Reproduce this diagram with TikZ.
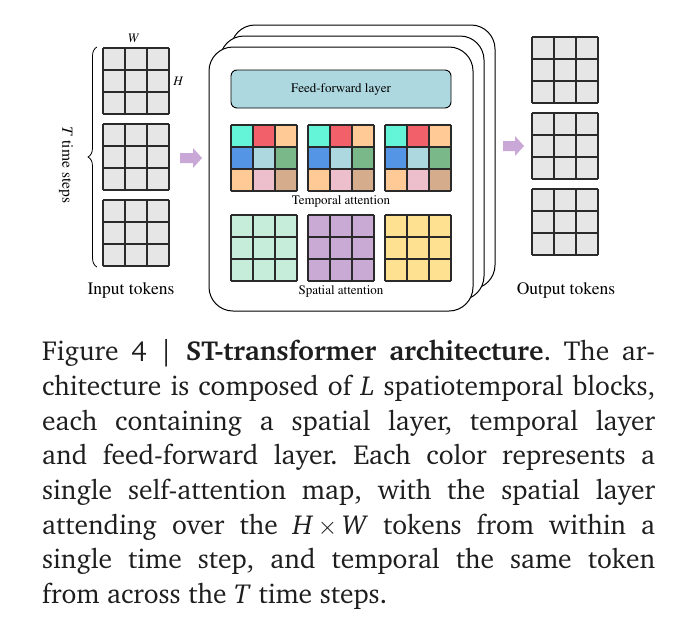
\documentclass[tikz,border=0pt]{standalone}
\usepackage[T1]{fontenc}
\usetikzlibrary{decorations.pathreplacing}
\definecolor{cellgray}{HTML}{E6E6E6}
\definecolor{gridline}{HTML}{2A2A2A}
\definecolor{ffblue}{HTML}{ADD8E0}
\definecolor{tturq}{HTML}{64F5D8}
\definecolor{tred}{HTML}{F2606A}
\definecolor{tpeach}{HTML}{FFCA96}
\definecolor{tblue}{HTML}{5595E5}
\definecolor{tlblue}{HTML}{ADD8E0}
\definecolor{tgreen}{HTML}{7AB88A}
\definecolor{tpink}{HTML}{EDBFCC}
\definecolor{ttan}{HTML}{D5AC8C}
\definecolor{smint}{HTML}{C5EDDA}
\definecolor{spurple}{HTML}{C8AAD5}
\definecolor{syellow}{HTML}{FFE192}
\definecolor{arrowc}{HTML}{C9A8D8}
\definecolor{captext}{HTML}{1E1E1E}
\newcommand\tokgrid[3]{%
  \foreach \cc [count=\ii from 0] in #3 {
    \pgfmathtruncatemacro\gcx{mod(\ii,3)}
    \pgfmathtruncatemacro\gcy{\ii/3}
    \fill[\cc] ({#1+22*\gcx},{#2+22*\gcy}) rectangle ++(22,22);
  }
  \foreach \kk in {0,...,3} {
    \draw[gridstroke] ({#1+22*\kk},#2) -- ++(0,66);
    \draw[gridstroke] (#1,{#2+22*\kk}) -- ++(66,0);
  }
}
\def\gr{cellgray,cellgray,cellgray,cellgray,cellgray,cellgray,cellgray,cellgray,cellgray}
\def\tc{tturq,tred,tpeach,tblue,tlblue,tgreen,tpeach,tpink,ttan}
\def\smc{smint,smint,smint,smint,smint,smint,smint,smint,smint}
\def\spc{spurple,spurple,spurple,spurple,spurple,spurple,spurple,spurple,spurple}
\def\syc{syellow,syellow,syellow,syellow,syellow,syellow,syellow,syellow,syellow}
\begin{document}
\frenchspacing
\begin{tikzpicture}[x=1pt,y=-1pt,
  gridstroke/.style={draw=gridline,line width=1.1pt},
  blockbox/.style={draw=black,fill=white,line width=1pt,rounded corners=24pt},
  lbl/.style={font=\fontfamily{ptm}\selectfont\fontsize{13}{15}\selectfont,inner sep=0pt,text=black},
  biglbl/.style={font=\fontfamily{ptm}\selectfont\fontsize{17.5}{20}\selectfont,inner sep=0pt,text=black},
  capnode/.style={anchor=base west,inner sep=0pt,text=captext,font=\fontfamily{bch}\selectfont\fontsize{27.5}{34.7}\selectfont}]
\useasboundingbox[fill=white] (0,0) rectangle (677,635);

% input tokens
\tokgrid{103}{48}{\gr}
\tokgrid{103}{124}{\gr}
\tokgrid{103}{200}{\gr}
\node[lbl,font=\fontfamily{ptm}\fontshape{it}\selectfont\fontsize{13}{15}\selectfont] (wlab) at (133,38) {W};
\node[lbl,font=\fontfamily{ptm}\fontshape{it}\selectfont\fontsize{13}{15}\selectfont] (hlab) at (178,81) {H};
\draw[line width=0.8pt,decorate,decoration={brace,amplitude=9pt}] (97,267) -- (97,47);
\node[lbl,rotate=-90,font=\fontfamily{ptm}\selectfont\fontsize{15.5}{18}\selectfont] (tlab) at (66,165) {\textit{T} time steps};
\node[biglbl] (inlab) at (131,290) {Input tokens};

% arrows
\fill[arrowc] (180,153) -- (193,153) -- (193,148) -- (202,158) -- (193,168) -- (193,163) -- (180,163) -- cycle;
\fill[arrowc] (503,141) -- (515,141) -- (515,136) -- (524,146) -- (515,156) -- (515,151) -- (503,151) -- cycle;

% stacked blocks
\draw[blockbox] (231,25) rectangle (495,289);
\draw[blockbox] (220,36) rectangle (484,300);
\draw[blockbox] (209,47) rectangle (473,311);

\draw[fill=ffblue,draw=black,line width=0.9pt,rounded corners=6pt] (231,70) rectangle (451,108);
\node[lbl] (fflab) at (341,89) {Feed-forward layer};

\tokgrid{231}{125}{\tc}
\tokgrid{308}{125}{\tc}
\tokgrid{385}{125}{\tc}
\node[lbl] (talab) at (341,201) {Temporal attention};

\tokgrid{231}{215}{\smc}
\tokgrid{308}{215}{\spc}
\tokgrid{385}{215}{\syc}
\node[lbl] (salab) at (341,291) {Spatial attention};

% output tokens
\tokgrid{532}{37}{\gr}
\tokgrid{532}{113}{\gr}
\tokgrid{532}{189}{\gr}
\node[biglbl] (outlab) at (566,290) {Output tokens};

% caption
\node[capnode] (c1) at (42,360) {\makebox[613pt][s]{Figure 4 | \textbf{ST-transformer architecture}. The ar-}};
\node[capnode] (c2) at (42,395) {\makebox[613pt][s]{chitecture is composed of \textit{L} spatiotemporal blocks,}};
\node[capnode] (c3) at (42,430) {\makebox[613pt][s]{each containing a spatial layer, temporal layer}};
\node[capnode] (c4) at (42,464) {\makebox[613pt][s]{and feed-forward layer. Each color represents a}};
\node[capnode] (c5) at (42,499) {\makebox[613pt][s]{single self-attention map, with the spatial layer}};
\node[capnode] (c6) at (42,534) {\makebox[613pt][s]{attending over the \textit{H}\,$\times$\,\textit{W} tokens from within a}};
\node[capnode] (c7) at (42,568) {\makebox[613pt][s]{single time step, and temporal the same token}};
\node[capnode] (c8) at (42,603) {from across the \textit{T} time steps.};
\end{tikzpicture}
\end{document}
